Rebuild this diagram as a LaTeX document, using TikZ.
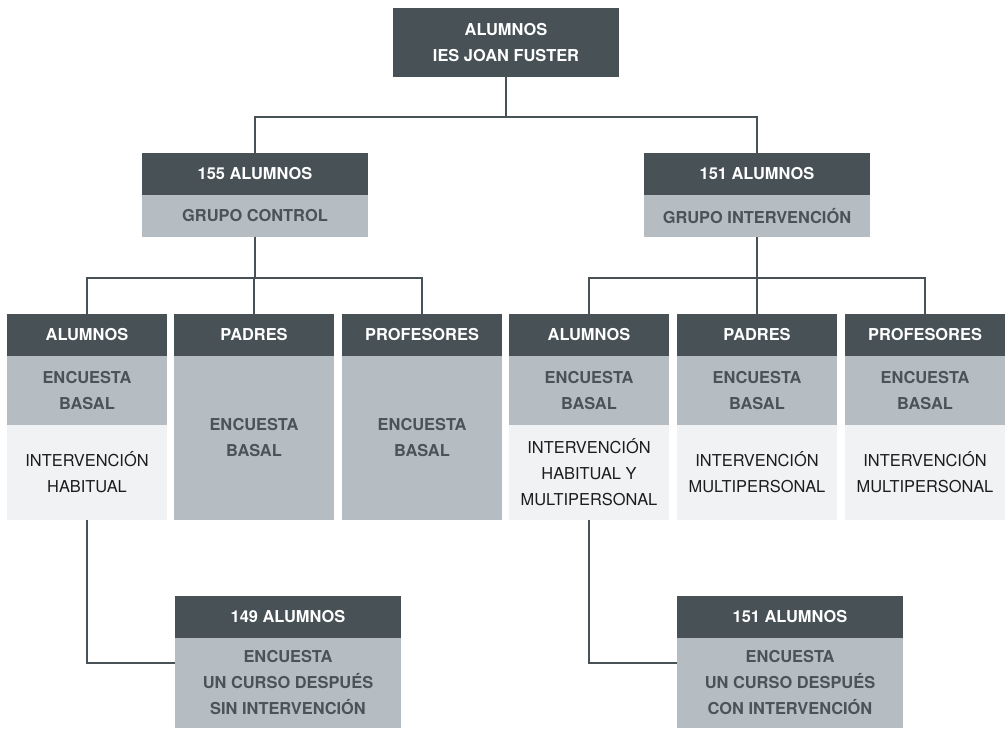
\documentclass[tikz,border=0pt]{standalone}
\usepackage{fontspec}
\setmainfont{TeX Gyre Heros}
\usepackage{tikz}
\usetikzlibrary{positioning}
\definecolor{hdrdark}{RGB}{71,81,86}
\definecolor{subgray}{RGB}{181,189,194}
\definecolor{notepale}{RGB}{241,242,244}
\definecolor{subtext}{RGB}{75,83,88}
\definecolor{notetext}{RGB}{28,28,30}
\tikzset{
  hdr/.style={rectangle, fill=hdrdark, text=white, align=center,
    font=\bfseries\fontsize{12.3}{19.5}\selectfont, inner sep=0pt, outer sep=0pt,
    minimum height=31.5pt},
  sub/.style={rectangle, fill=subgray, text=subtext, align=center,
    font=\bfseries\fontsize{12.3}{19.5}\selectfont, inner sep=0pt, outer sep=0pt,
    minimum height=31.5pt},
  note/.style={rectangle, fill=notepale, text=notetext, align=center,
    font=\fontsize{12.3}{19.5}\selectfont, inner sep=0pt, outer sep=0pt,
    minimum height=71.25pt},
  wide/.style={minimum width=169.5pt},
  narrow/.style={minimum width=120pt},
  line/.style={line width=1.1pt, color=hdrdark}
}
\begin{document}
\begin{tikzpicture}[x=0.75pt, y=0.75pt, node distance=0pt]
  \useasboundingbox (0,0) rectangle (1005,729);

  % Nodes
  \node[hdr, wide, minimum height=51.75pt, anchor=north] (root) at (506,721) {ALUMNOS\\IES JOAN FUSTER};

  \node[hdr, wide, anchor=north] (ctrl) at (255,576) {155 ALUMNOS};
  \node[sub, wide, below=of ctrl] (ctrlsub) {GRUPO CONTROL};
  \node[hdr, wide, anchor=north] (interv) at (757,576) {151 ALUMNOS};
  \node[sub, wide, below=of interv] (intervsub) {GRUPO INTERVENCIÓN};

  % Control group
  \node[hdr, narrow, anchor=north] (calu) at (87,415) {ALUMNOS};
  \node[sub, narrow, minimum height=51.75pt, below=of calu] (calusub) {ENCUESTA\\BASAL};
  \node[note, narrow, below=of calusub] (calunote) {INTERVENCIÓN\\HABITUAL};
  \node[hdr, narrow, anchor=north] (cpad) at (254,415) {PADRES};
  \node[sub, narrow, minimum height=123pt, below=of cpad] (cpadsub) {ENCUESTA\\BASAL};
  \node[hdr, narrow, anchor=north] (cprof) at (422,415) {PROFESORES};
  \node[sub, narrow, minimum height=123pt, below=of cprof] (cprofsub) {ENCUESTA\\BASAL};

  % Intervention group
  \node[hdr, narrow, anchor=north] (ialu) at (589,415) {ALUMNOS};
  \node[sub, narrow, minimum height=51.75pt, below=of ialu] (ialusub) {ENCUESTA\\BASAL};
  \node[note, narrow, below=of ialusub] (ialunote) {INTERVENCIÓN\\HABITUAL Y\\MULTIPERSONAL};
  \node[hdr, narrow, anchor=north] (ipad) at (757,415) {PADRES};
  \node[sub, narrow, minimum height=51.75pt, below=of ipad] (ipadsub) {ENCUESTA\\BASAL};
  \node[note, narrow, below=of ipadsub] (ipadnote) {INTERVENCIÓN\\MULTIPERSONAL};
  \node[hdr, narrow, anchor=north] (iprof) at (925,415) {PROFESORES};
  \node[sub, narrow, minimum height=51.75pt, below=of iprof] (iprofsub) {ENCUESTA\\BASAL};
  \node[note, narrow, below=of iprofsub] (iprofnote) {INTERVENCIÓN\\MULTIPERSONAL};

  % Follow-up
  \node[hdr, wide, anchor=north] (fctrl) at (288,133) {149 ALUMNOS};
  \node[sub, wide, minimum height=67.5pt, below=of fctrl] (fctrlsub) {ENCUESTA\\UN CURSO DESPUÉS\\SIN INTERVENCIÓN};
  \node[hdr, wide, anchor=north] (fint) at (790,133) {151 ALUMNOS};
  \node[sub, wide, minimum height=67.5pt, below=of fint] (fintsub) {ENCUESTA\\UN CURSO DESPUÉS\\CON INTERVENCIÓN};

  % Paths
  \draw[line] (root.south) -- ++(0,-40) -| (ctrl.north);
  \draw[line] (root.south) -- ++(0,-40) -| (interv.north);

  \draw[line] (ctrlsub.south) -- ++(0,-41) -| (calu.north);
  \draw[line] (ctrlsub.south) -- ++(0,-41) -| (cpad.north);
  \draw[line] (ctrlsub.south) -- ++(0,-41) -| (cprof.north);
  \draw[line] (intervsub.south) -- ++(0,-41) -| (ialu.north);
  \draw[line] (intervsub.south) -- ++(0,-41) -| (ipad.north);
  \draw[line] (intervsub.south) -- ++(0,-41) -| (iprof.north);

  \draw[line] (calunote.south) |- ([yshift=-18.75pt]fctrlsub.north west);
  \draw[line] (ialunote.south) |- ([yshift=-18.75pt]fintsub.north west);
\end{tikzpicture}
\end{document}
